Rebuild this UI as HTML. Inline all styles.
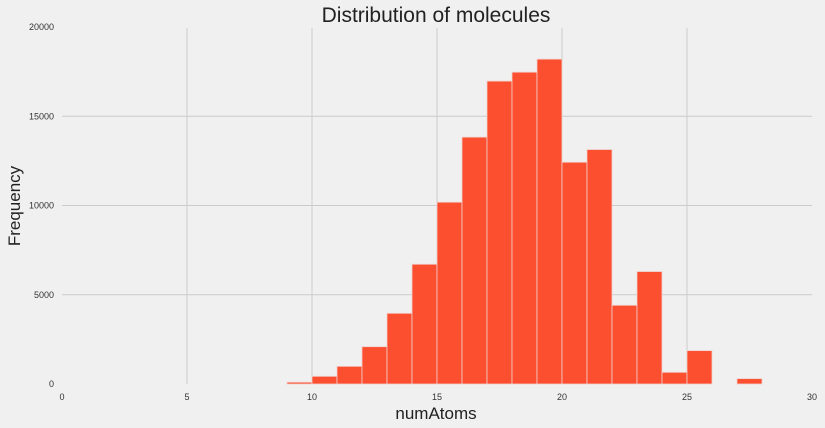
<!DOCTYPE html>
<html><head><meta charset="utf-8"><style>
html,body{margin:0;padding:0;background:#f0f0f0;}
svg{display:block;font-family:"Liberation Sans",sans-serif;}
</style></head><body>
<svg id="chart" width="825" height="428" viewBox="0 0 825 428">
<rect width="825" height="428" fill="#f0f0f0"/>
<g id="grid"></g>
<g id="bars"></g>
<g id="xticks"></g>
<g id="yticks"></g>
<text x="436" y="22" text-anchor="middle" font-size="21" fill="#222">Distribution of molecules</text>
<text x="436" y="419" text-anchor="middle" font-size="17" fill="#222">numAtoms</text>
<text transform="translate(20,206) rotate(-90)" text-anchor="middle" font-size="17" fill="#222">Frequency</text>
</svg>
<script>
const binStarts=[9,10,11,12,13,14,15,16,17,18,19,20,21,22,23,24,25,26,27];
const counts=[100,430,990,2090,3960,6710,10185,13830,16970,17470,18200,12425,13135,4410,6300,655,1870,0,300];
const xTickLabels=[0,5,10,15,20,25,30];
const yTickLabels=[0,5000,10000,15000,20000];
const X0=62,X1=812,Y0=384,Y1=27;
function xs(v){return X0+(v-0)/30*(X1-X0);}
function ys(v){return Y0-v/20000*(Y0-Y1);}
const NS="http://www.w3.org/2000/svg";
function mk(t,a){const e=document.createElementNS(NS,t);for(const k in a)e.setAttribute(k,a[k]);return e;}
const grid=document.getElementById('grid'),bars=document.getElementById('bars'),xt=document.getElementById('xticks'),yt=document.getElementById('yticks');
xTickLabels.forEach(v=>{
  if(v>0&&v<30){const l=mk('line',{x1:xs(v),x2:xs(v),y1:Y1+1,y2:Y0,stroke:'#cbcbcb','stroke-width':1});
  
  
  grid.appendChild(l);}
  const t=mk('text',{x:xs(v),y:Y0+16,'text-anchor':'middle','font-size':9,fill:'#333'});t.textContent=v;
  
  
  xt.appendChild(t);
});
yTickLabels.forEach(v=>{
  if(v>0&&v<20000){const l=mk('line',{x1:X0,x2:X1,y1:ys(v),y2:ys(v),stroke:'#cbcbcb','stroke-width':1});
  
  
  grid.appendChild(l);}
  const t=mk('text',{x:54,y:ys(v)+3,'text-anchor':'end','font-size':9,fill:'#333'});t.textContent=v;
  
  
  yt.appendChild(t);
});
binStarts.forEach((b,i)=>{
  if(counts[i]<=0)return;
  const r=mk('rect',{x:xs(b),y:ys(counts[i]),width:xs(b+1)-xs(b),height:Y0-ys(counts[i]),fill:'#fc4f30',stroke:'#f0d0cc','stroke-width':0.8});
  
  
  bars.appendChild(r);
});
</script>
</body></html>
